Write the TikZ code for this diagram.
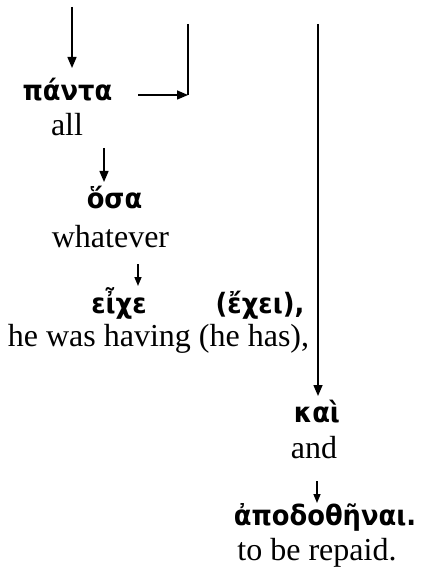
\documentclass[tikz,border=0pt]{standalone}
\usepackage{fontspec}
\setmainfont{Liberation Serif}
\newfontfamily\grfont[FakeStretch=0.92]{DejaVu Sans}
\usetikzlibrary{arrows.meta}
\tikzset{
  gr/.style={inner sep=0pt, anchor=base, font=\grfont\bfseries\fontsize{28}{33}\selectfont},
  en/.style={inner sep=0pt, anchor=base, font=\fontsize{32}{38}\selectfont},
  bigarrow/.style={line width=1.5pt, -{Triangle[length=11pt,width=9pt]}},
  smallarrow/.style={line width=1.5pt, -{Triangle[length=9pt,width=7pt]}},
  plainline/.style={line width=1.8pt}
}
\begin{document}
\begin{tikzpicture}[x=1pt,y=-1pt]
\useasboundingbox (0,0) rectangle (421,577);
% texts
\node[gr] (panta) at (67.5,101) {πάντα};
\node[en] (all) at (67,136) {all};
\node[gr] (osa) at (114.5,208) {ὅσα};
\node[en] (whatever) at (110.5,247) {whatever};
\node[gr] (eixe) at (119,313) {εἶχε};
\node[gr] (exei) at (260,313) {(ἔχει),};
\node[en] (having) at (158.5,346) {he was having (he has),};
\node[gr] (kai) at (317,422) {καὶ};
\node[en] (and) at (314,458) {and};
\node[gr] (apo) at (325,525) {ἀποδοθῆναι.};
\node[en] (repaid) at (317,560) {to be repaid.};
% coordinates
\coordinate (a1s) at (72,7);
\coordinate (a1e) at (72,68);
\coordinate (r1s) at (138,95);
\coordinate (r1e) at (188,95);
\coordinate (v1top) at (188,24);
\coordinate (a2s) at (104,148);
\coordinate (a2e) at (104,182);
\coordinate (a3s) at (138,264);
\coordinate (a3e) at (138,286);
\coordinate (v2top) at (318,24);
\coordinate (v2e) at (318,396);
\coordinate (a4s) at (317,481);
\coordinate (a4e) at (317,503);
% connectors
\draw[bigarrow] (a1s) -- (a1e);
\draw[bigarrow] (r1s) -- (r1e);
\draw[plainline] (v1top) -- (r1e);
\draw[bigarrow] (a2s) -- (a2e);
\draw[smallarrow] (a3s) -- (a3e);
\draw[bigarrow] (v2top) -- (v2e);
\draw[smallarrow] (a4s) -- (a4e);
\end{tikzpicture}
\end{document}
